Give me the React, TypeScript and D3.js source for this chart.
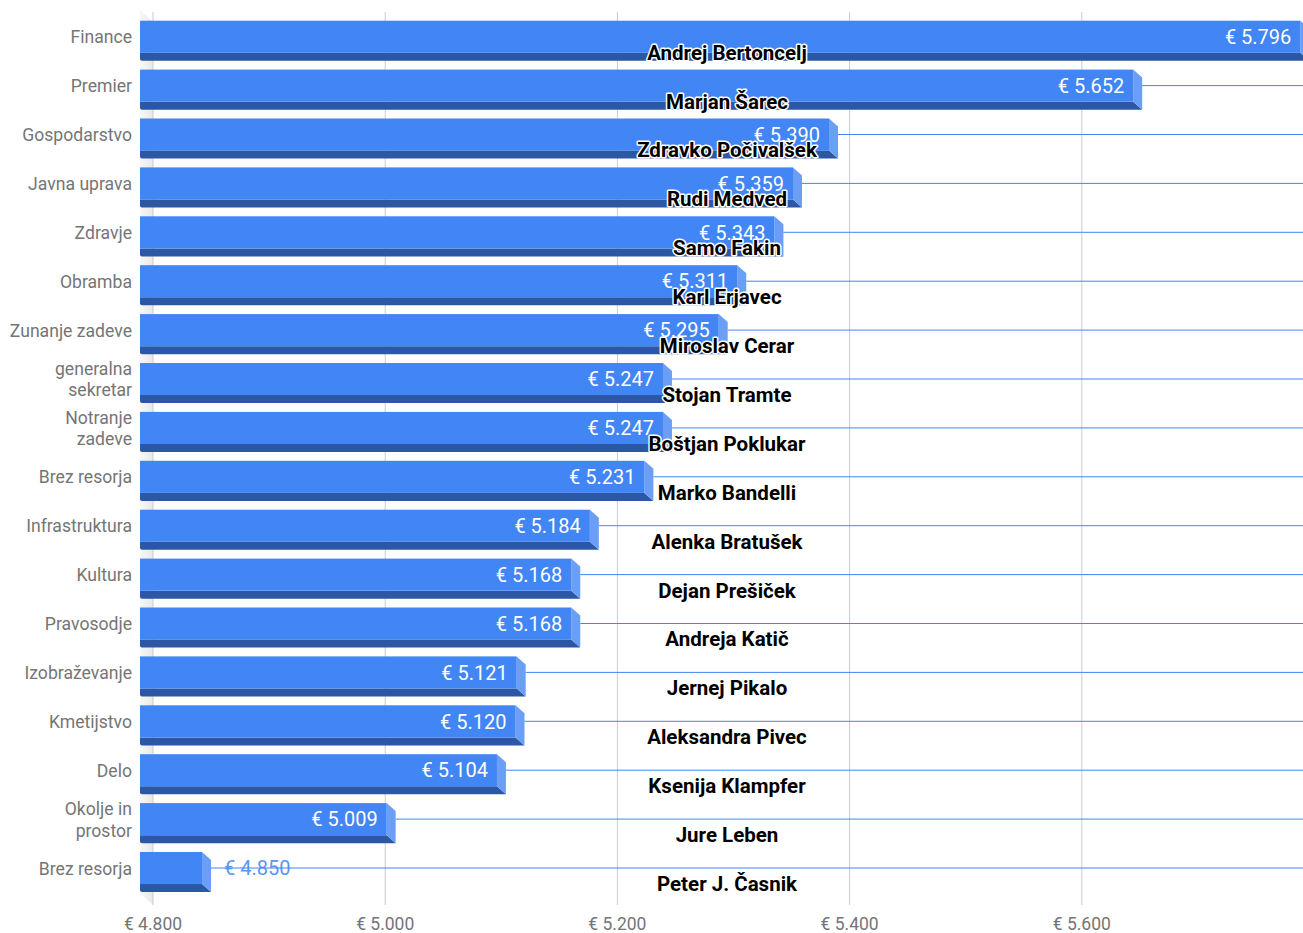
import * as d3 from "d3"

const categories = [
  ["Finance"],
  ["Premier"],
  ["Gospodarstvo"],
  ["Javna uprava"],
  ["Zdravje"],
  ["Obramba"],
  ["Zunanje zadeve"],
  ["generalna", "sekretar"],
  ["Notranje", "zadeve"],
  ["Brez resorja"],
  ["Infrastruktura"],
  ["Kultura"],
  ["Pravosodje"],
  ["Izobraževanje"],
  ["Kmetijstvo"],
  ["Delo"],
  ["Okolje in", "prostor"],
  ["Brez resorja"],
]

const salaries = [5796, 5652, 5390, 5359, 5343, 5311, 5295, 5247, 5247, 5231, 5184, 5168, 5168, 5121, 5120, 5104, 5009, 4850]

const ministers = [
  "Andrej Bertoncelj",
  "Marjan Šarec",
  "Zdravko Počivalšek",
  "Rudi Medved",
  "Samo Fakin",
  "Karl Erjavec",
  "Miroslav Cerar",
  "Stojan Tramte",
  "Boštjan Poklukar",
  "Marko Bandelli",
  "Alenka Bratušek",
  "Dejan Prešiček",
  "Andreja Katič",
  "Jernej Pikalo",
  "Aleksandra Pivec",
  "Ksenija Klampfer",
  "Jure Leben",
  "Peter J. Časnik",
]

const xTicks = [4800, 5000, 5200, 5400, 5600]

const W = 1303
const H = 933
const FONT = "Roboto, 'Noto Sans', sans-serif"

const locale = d3.formatLocale({ decimal: ",", thousands: ".", grouping: [3], currency: ["€ ", ""] })
const fmt = locale.format("$,d")

export default function App() {
  // back plane of the bars (value end) follows the gridlines
  const x = d3.scaleLinear().domain([4800, 5600]).range([153, 1081.8])
  const y = d3
    .scaleBand<number>()
    .domain(d3.range(categories.length))
    .range([16.3, 16.3 + 48.9 * 18])
    .paddingInner(0.18)
    .paddingOuter(0.09)

  const dx = 9 // depth offset
  const dy = 8
  const frontH = y.bandwidth() - dy
  const left = 140

  return (
    <svg
      width={W}
      height={H}
      style={{ position: "absolute", left: 0, top: 0, background: "#fff" }}
      fontFamily={FONT}
    >
      <defs>
        <clipPath id="plot">
          <rect x={0} y={0} width={W} height={H} />
        </clipPath>
        <linearGradient id="wall" x1="0" x2="1" y1="0" y2="0">
          <stop offset="0%" stopColor="#f7f7f7" />
          <stop offset="100%" stopColor="#e9e9e9" />
        </linearGradient>
      </defs>

      {/* side wall */}
      <polygon points={`140,10 153,22 153,905 140,893`} fill="url(#wall)" />

      {/* gridlines */}
      {xTicks.map((t) => (
        <line key={t} x1={x(t)} x2={x(t)} y1={12} y2={905} stroke="#cccccc" strokeWidth={1} />
      ))}

      {/* tick labels */}
      {xTicks.map((t) => (
        <text key={"l" + t} x={x(t)} y={925.5} textAnchor="middle" dominantBaseline="middle" fontSize={17.5} fill="#757575">
          {fmt(t)}
        </text>
      ))}

      {/* category labels */}
      {categories.map((lines, i) => {
        const cy = (y(i) as number) + 18
        return (
          <text key={"c" + i} x={132} textAnchor="end" fontSize={17.6} fill="#757575">
            {lines.map((ln, j) => (
              <tspan key={j} x={132} y={cy + (j - (lines.length - 1) / 2) * 21.5} dominantBaseline="middle">
                {ln}
              </tspan>
            ))}
          </text>
        )
      })}

      {/* bars */}
      <g clipPath="url(#plot)">
        {salaries.map((v, i) => {
          const top = y(i) as number
          const xf = x(v) - dx
          return (
            <g key={"b" + i}>
              <path
                d={`M${left + 2},${top + frontH} L${xf},${top + frontH} L${xf + dx},${top + frontH + dy} L${left + 2},${top + frontH + dy} Q${left},${top + frontH + dy} ${left},${top + frontH + dy - 2} L${left},${top + frontH} Z`}
                fill="#2b57a5"
              />
              <polygon
                points={`${xf},${top} ${xf + dx},${top + dy} ${xf + dx},${top + frontH + dy} ${xf},${top + frontH}`}
                fill="#6b9ff6"
              />
              <rect x={left} y={top} width={xf - left} height={frontH} fill="#4285f4" />
            </g>
          )
        })}
      </g>

      {/* value labels */}
      {salaries.map((v, i) => {
        const top = y(i) as number
        const xf = x(v) - dx
        const inside = xf - left > 80
        return (
          <text
            key={"v" + i}
            x={inside ? xf - 9 : x(v) + 13}
            y={top + 18}
            textAnchor={inside ? "end" : "start"}
            dominantBaseline="middle"
            fontSize={20}
            fill={inside ? "#ffffff" : "#5b95f7"}
          >
            {fmt(v)}
          </text>
        )
      })}

      {/* reference lines from bar end */}
      {salaries.map((v, i) => {
        const top = y(i) as number
        return x(v) < W ? (
          <line key={"r" + i} x1={x(v)} x2={W} y1={top + 16} y2={top + 16} stroke="#4285f4" strokeWidth={1} />
        ) : null
      })}

      {/* minister names */}
      {ministers.map((n, i) => {
        const top = y(i) as number
        return (
          <text
            key={"n" + i}
            x={727}
            y={top + 33.5}
            textAnchor="middle"
            dominantBaseline="middle"
            fontSize={20.5}
            fontWeight="bold"
            fill="#000"
            stroke="#fff"
            strokeWidth={3}
            strokeLinejoin="round"
            style={{ paintOrder: "stroke" }}
          >
            {n}
          </text>
        )
      })}
    </svg>
  )
}
